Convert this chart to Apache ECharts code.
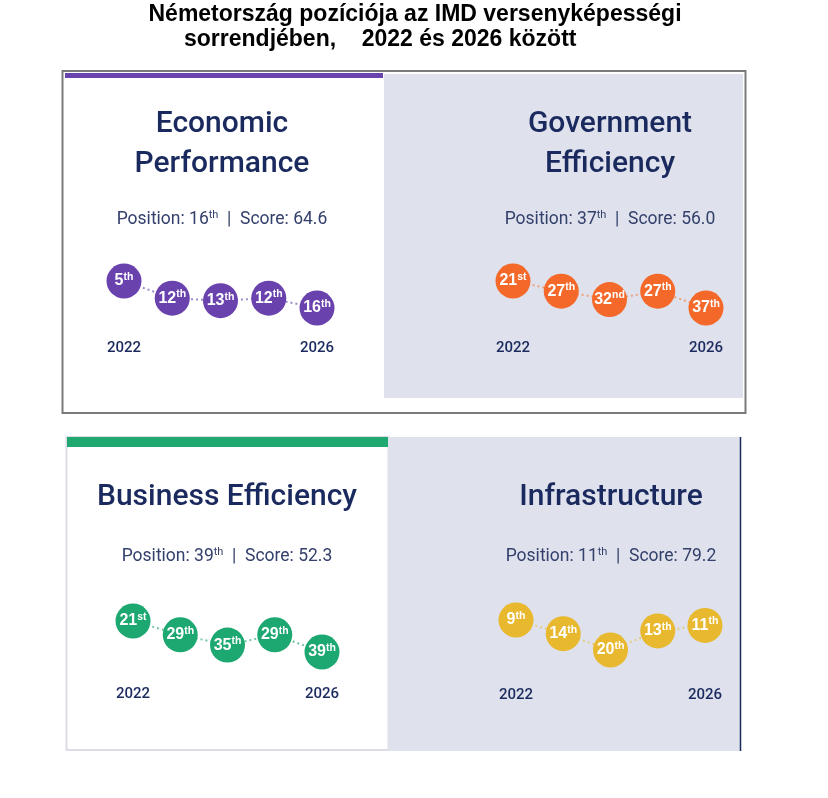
<!DOCTYPE html>
<html>
<head>
<meta charset="utf-8">
<script src="https://cdn.jsdelivr.net/npm/echarts@6/dist/echarts.min.js"></script>
<style>
html,body{margin:0;padding:0;background:#fff;}
#main{width:828px;height:798px;}
</style>
</head>
<body>
<div id="main"></div>
<script>
// ---- data ----
const years = ['2022', '2023', '2024', '2025', '2026'];
const econRanks = [5, 12, 13, 12, 16];
const govRanks = [21, 27, 32, 27, 37];
const busRanks = [21, 29, 35, 29, 39];
const infraRanks = [9, 14, 20, 13, 11];
const factorNames = ['Economic\nPerformance', 'Government\nEfficiency', 'Business Efficiency', 'Infrastructure'];
const positions = [16, 37, 39, 11];
const scores = ['64.6', '56.0', '52.3', '79.2'];
const mainTitle1 = 'Németország pozíciója az IMD versenyképességi';
const mainTitle2 = 'sorrendjében,    2022 és 2026 között';

// ---- styling / layout ----
const navy = '#1b2a5e';
const bgGray = '#dfe2ec';
const panels = [
  {ranks: econRanks, color: '#6a42ae', line: '#9f8ccc', grid: {left: 124, width: 193, top: 281, height: 27}, yearMargin: 33, title: {x: 222, y: 144}, pos: {x: 222, y: 220}},
  {ranks: govRanks, color: '#f4692a', line: '#eda07a', grid: {left: 513, width: 193, top: 281, height: 27}, yearMargin: 33, title: {x: 610, y: 144}, pos: {x: 610, y: 220}},
  {ranks: busRanks, color: '#1da872', line: '#72c6a2', grid: {left: 133, width: 189, top: 621, height: 31}, yearMargin: 35, title: {x: 227, y: 497}, pos: {x: 227, y: 557}},
  {ranks: infraRanks, color: '#e8b82e', line: '#e3cc82', grid: {left: 516, width: 189, top: 620, height: 30}, yearMargin: 38, title: {x: 611, y: 497}, pos: {x: 611, y: 557}}
];

function suffix(n) {
  const m10 = n % 10, m100 = n % 100;
  if (m10 === 1 && m100 !== 11) return 'st';
  if (m10 === 2 && m100 !== 12) return 'nd';
  if (m10 === 3 && m100 !== 13) return 'rd';
  return 'th';
}

const grids = [], xAxes = [], yAxes = [], series = [];
panels.forEach((p, i) => {
  grids.push(Object.assign({containLabel: false}, p.grid));
  xAxes.push({
    type: 'category', gridIndex: i, data: years, boundaryGap: false, z: 10,
    axisLine: {show: false}, axisTick: {show: false}, splitLine: {show: false},
    axisLabel: {
      interval: (idx) => idx === 0 || idx === years.length - 1,
      margin: p.yearMargin, color: navy, fontSize: 15, fontWeight: 500,
      fontFamily: 'Roboto, Arial, sans-serif'
    }
  });
  const mn = Math.min(...p.ranks), mx = Math.max(...p.ranks);
  yAxes.push({
    type: 'value', gridIndex: i, inverse: true, min: mn, max: mx, show: false,
    splitLine: {show: false}
  });
  series.push({
    type: 'line', xAxisIndex: i, yAxisIndex: i, data: p.ranks,
    symbol: 'circle', symbolSize: 35, showSymbol: true, showAllSymbol: true, clip: false,
    lineStyle: {color: p.line, width: 2, type: [2, 3]},
    itemStyle: {color: p.color},
    label: {
      show: true, position: 'inside', offset: [1, 1],
      formatter: (d) => '{n|' + d.value + '}{s|' + suffix(d.value) + '}',
      rich: {
        n: {fontSize: 16, fontWeight: 'bold', color: '#fff', lineHeight: 19, fontFamily: 'Liberation Sans, Arial, sans-serif'},
        s: {fontSize: 10.5, fontWeight: 'bold', color: '#fff', lineHeight: 11, verticalAlign: 'top', fontFamily: 'Liberation Sans, Arial, sans-serif'}
      }
    },
    labelLayout: {hideOverlap: false},
    emphasis: {disabled: true},
    silent: true,
    z: 3
  });
});

const graphics = [
  // top box
  {type: 'rect', shape: {x: 62.5, y: 71, width: 683, height: 342}, style: {fill: '#fff', stroke: '#7a7a7a', lineWidth: 2}, z: -10},
  {type: 'rect', shape: {x: 65, y: 73, width: 318, height: 5}, style: {fill: '#6a44ae'}, z: -9},
  {type: 'rect', shape: {x: 384, y: 74, width: 359, height: 324}, style: {fill: bgGray}, z: -9},
  // bottom box
  {type: 'rect', shape: {x: 66.5, y: 437, width: 322, height: 313}, style: {fill: '#fff', stroke: '#dcdce8', lineWidth: 2}, z: -10},
  {type: 'rect', shape: {x: 67, y: 437, width: 321, height: 10}, style: {fill: '#20a871'}, z: -9},
  {type: 'rect', shape: {x: 388, y: 437, width: 352, height: 314}, style: {fill: bgGray}, z: -9},
  {type: 'line', shape: {x1: 740.5, y1: 437, x2: 740.5, y2: 751}, style: {stroke: navy, lineWidth: 1.5}, z: -9},
  // main title
  {type: 'text', x: 415, y: 15, style: {text: mainTitle1, fill: '#000', font: 'bold 23px "Liberation Sans", Arial, sans-serif', textAlign: 'center', textVerticalAlign: 'middle'}, z: 5},
  {type: 'text', x: 184, y: 40, style: {text: mainTitle2, fill: '#000', font: 'bold 23px "Liberation Sans", Arial, sans-serif', textAlign: 'left', textVerticalAlign: 'middle'}, z: 5}
];

panels.forEach((p, i) => {
  graphics.push({
    type: 'text', x: p.title.x, y: p.title.y,
    style: {text: factorNames[i], fill: navy, font: '500 30px Roboto, sans-serif', lineHeight: 40, textAlign: 'center', textVerticalAlign: 'middle'},
    z: 5
  });
  graphics.push({
    type: 'text', x: p.pos.x, y: p.pos.y,
    style: {
      text: '{a|Position: ' + positions[i] + '}{s|' + suffix(positions[i]) + '}{a|  |  Score: ' + scores[i] + '}',
      textAlign: 'center', textVerticalAlign: 'middle',
      rich: {
        a: {fontSize: 17.5, fontFamily: 'Roboto, sans-serif', fill: '#34406c', color: '#34406c', lineHeight: 20},
        s: {fontSize: 11, fontFamily: 'Roboto, sans-serif', fill: '#34406c', color: '#34406c', lineHeight: 11, verticalAlign: 'top'}
      }
    },
    z: 5
  });
});

const chart = echarts.init(document.getElementById('main'), null, {renderer: 'canvas'});
chart.setOption({
  animation: false,
  backgroundColor: '#fff',
  grid: grids,
  xAxis: xAxes,
  yAxis: yAxes,
  series: series,
  graphic: {elements: graphics}
});
</script>
</body>
</html>
